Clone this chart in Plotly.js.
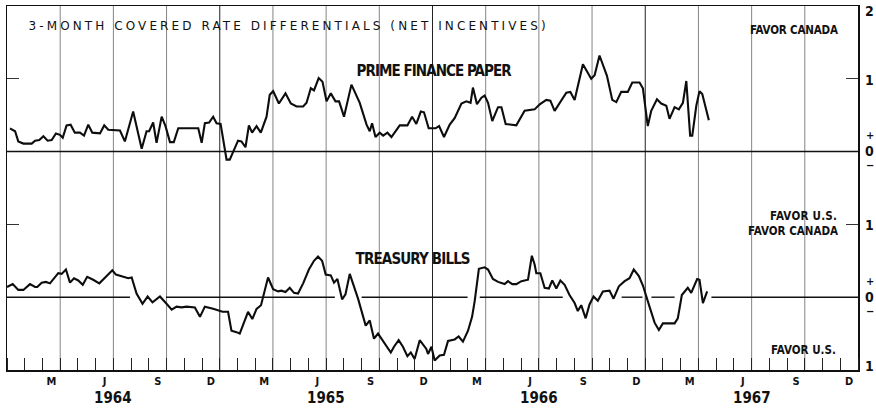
<!DOCTYPE html>
<html>
<head>
<meta charset="utf-8">
<script src="https://cdn.plot.ly/plotly-3.0.1.min.js"></script>
<style>
html,body{margin:0;padding:0;background:#fff;}
#chart{width:876px;height:408px;}
</style>
</head>
<body>
<div id="chart"></div>
<script>
// ---------------- DATA ----------------
// Time in fractional years, values in percentage points.
const primeT = [1964.014,1964.038,1964.053,1964.077,1964.116,1964.132,1964.152,1964.171,1964.191,1964.210,
1964.230,1964.249,1964.262,1964.280,1964.299,1964.319,1964.343,1964.362,1964.382,1964.401,
1964.437,1964.457,1964.476,1964.507,1964.531,1964.554,1964.593,1964.633,1964.656,1964.668,
1964.687,1964.703,1964.727,1964.745,1964.766,1964.784,1964.805,1964.899,1964.915,1964.930,
1964.950,1964.969,1964.985,1965.004,1965.013,1965.032,1965.047,1965.071,1965.086,1965.102,
1965.121,1965.137,1965.152,1965.173,1965.193,1965.220,1965.235,1965.251,1965.262,1965.278,
1965.309,1965.334,1965.361,1965.392,1965.408,1965.428,1965.443,1965.465,1965.483,1965.502,
1965.522,1965.544,1965.561,1965.584,1965.619,1965.658,1965.690,1965.705,1965.716,1965.732,
1965.752,1965.768,1965.788,1965.807,1965.846,1965.882,1965.904,1965.924,1965.945,1965.960,
1965.982,1966.014,1966.031,1966.054,1966.081,1966.104,1966.136,1966.159,1966.179,1966.190,
1966.209,1966.230,1966.245,1966.261,1966.281,1966.308,1966.324,1966.344,1966.394,1966.433,
1966.480,1966.504,1966.535,1966.554,1966.574,1966.605,1966.629,1966.648,1966.668,1966.707,
1966.746,1966.762,1966.785,1966.820,1966.845,1966.864,1966.887,1966.918,1966.939,1966.973,
1966.989,1967.012,1967.028,1967.055,1967.075,1967.099,1967.114,1967.138,1967.158,1967.177,
1967.193,1967.211,1967.221,1967.240,1967.255,1967.268,1967.299];
const primeV = [0.32,0.28,0.14,0.11,0.11,0.15,0.16,0.21,0.15,0.16,
0.25,0.23,0.19,0.36,0.37,0.26,0.26,0.22,0.37,0.26,
0.25,0.36,0.30,0.29,0.29,0.14,0.55,0.04,0.28,0.28,
0.40,0.12,0.48,0.35,0.13,0.13,0.32,0.32,0.12,0.39,
0.40,0.48,0.39,0.38,0.20,-0.11,-0.11,0.05,0.15,0.14,
0.06,0.36,0.26,0.35,0.26,0.48,0.78,0.83,0.76,0.66,
0.80,0.66,0.62,0.62,0.67,0.87,0.84,1.01,0.96,0.69,
0.80,0.69,0.69,0.48,0.92,0.67,0.37,0.28,0.39,0.20,
0.26,0.22,0.26,0.20,0.36,0.36,0.48,0.38,0.55,0.54,
0.32,0.32,0.35,0.20,0.37,0.46,0.66,0.69,0.67,0.88,
0.65,0.74,0.77,0.67,0.42,0.61,0.61,0.38,0.36,0.56,
0.58,0.65,0.71,0.70,0.56,0.70,0.81,0.82,0.71,1.20,
1.00,1.05,1.32,1.04,0.71,0.68,0.82,0.82,0.95,0.95,
0.87,0.35,0.56,0.72,0.66,0.63,0.45,0.61,0.58,0.67,
0.97,0.22,0.22,0.63,0.83,0.79,0.43];

const billsT = [1964.000,1964.027,1964.053,1964.077,1964.108,1964.132,1964.142,1964.163,1964.183,1964.202,
1964.241,1964.257,1964.277,1964.296,1964.315,1964.335,1964.356,1964.377,1964.405,1964.434,
1964.465,1964.495,1964.512,1964.546,1964.570,1964.586,1964.609,1964.637,1964.661,1964.684,
1964.719,1964.750,1964.774,1964.797,1964.821,1964.844,1964.883,1964.907,1964.930,1964.969,
1964.992,1965.013,1965.039,1965.055,1965.079,1965.094,1965.133,1965.153,1965.173,1965.194,
1965.227,1965.251,1965.274,1965.290,1965.309,1965.329,1965.349,1965.368,1965.392,1965.419,
1965.443,1965.462,1965.481,1965.498,1965.522,1965.537,1965.553,1965.575,1965.591,1965.611,
1965.650,1965.686,1965.705,1965.725,1965.744,1965.768,1965.804,1965.819,1965.841,1965.861,
1965.882,1965.898,1965.916,1965.940,1965.971,1965.979,1965.995,1966.010,1966.034,1966.054,
1966.073,1966.104,1966.123,1966.143,1966.167,1966.186,1966.198,1966.218,1966.245,1966.261,
1966.284,1966.308,1966.339,1966.355,1966.375,1966.394,1966.418,1966.449,1966.467,1966.480,
1966.488,1966.507,1966.527,1966.547,1966.563,1966.582,1966.601,1966.621,1966.644,1966.668,
1966.683,1966.699,1966.720,1966.738,1966.757,1966.777,1966.801,1966.832,1966.851,1966.876,
1966.903,1966.926,1966.946,1966.970,1966.989,1967.020,1967.044,1967.064,1967.083,1967.138,
1967.153,1967.172,1967.200,1967.216,1967.244,1967.255,1967.271,1967.291];
const billsV = [0.14,0.18,0.10,0.10,0.18,0.14,0.14,0.20,0.21,0.19,
0.33,0.32,0.38,0.20,0.26,0.23,0.17,0.28,0.24,0.19,
0.28,0.37,0.31,0.28,0.26,0.27,0.05,-0.09,0.01,-0.07,
0.01,-0.09,-0.17,-0.13,-0.14,-0.13,-0.14,-0.27,-0.13,-0.16,
-0.18,-0.20,-0.20,-0.46,-0.48,-0.50,-0.20,-0.30,-0.16,-0.11,
0.27,0.11,0.08,0.09,0.07,0.13,0.06,0.05,0.19,0.38,
0.50,0.56,0.50,0.31,0.30,0.20,0.25,-0.03,0.04,0.32,
-0.02,-0.39,-0.32,-0.57,-0.50,-0.60,-0.76,-0.68,-0.59,-0.68,
-0.81,-0.76,-0.85,-0.59,-0.71,-0.78,-0.68,-0.87,-0.80,-0.79,
-0.60,-0.58,-0.54,-0.61,-0.46,-0.27,-0.06,0.39,0.41,0.38,
0.25,0.21,0.18,0.22,0.18,0.18,0.22,0.24,0.57,0.45,
0.33,0.33,0.13,0.12,0.23,0.12,0.23,0.17,0.03,-0.08,
-0.19,-0.11,-0.29,-0.10,0.01,-0.05,0.08,0.09,-0.02,0.15,
0.22,0.26,0.38,0.29,0.16,-0.13,-0.35,-0.45,-0.36,-0.36,
-0.29,0.03,0.13,0.06,0.25,0.24,-0.08,0.08];

const years = [1964, 1965, 1966, 1967];
const monthLabels = ['M', 'J', 'S', 'D'];
const monthIndex = [2, 5, 8, 11];          // March, June, September, December
const seriesNames = ['PRIME FINANCE PAPER', 'TREASURY BILLS'];

// ---------------- LAYOUT HELPERS ----------------
const W = 876, H = 408;
const M = {l: 7, r: 18, t: 6, b: 38};
const PW = W - M.l - M.r, PH = H - M.t - M.b;
const px2paperX = x => (x - M.l) / PW;
const px2paperY = y => (H - M.b - y) / PH;

const tickvals = [], ticktext = [];
years.forEach(y => monthIndex.forEach((m, k) => { tickvals.push(y + (m + 0.5) / 12); ticktext.push(monthLabels[k]); }));

const shapes = [];
// quarter gridlines
for (let q = 1; q < 16; q++) {
  const xv = 1964 + q * 0.25;
  shapes.push({type: 'line', xref: 'x', yref: 'paper', x0: xv, x1: xv, y0: 0, y1: 1,
    line: {color: q % 4 === 0 ? '#222' : '#666', width: q % 4 === 0 ? 1 : 0.8}, layer: 'below'});
}
// top panel zero line
shapes.push({type: 'line', xref: 'paper', yref: 'y2', x0: 0, x1: 1, y0: 0, y1: 0, line: {color: '#111', width: 1.5}});
// bottom panel zero line (drawn in pieces, as in the original)
const zeroPieces = [[1964.0, 1964.578], [1964.747, 1965.541], [1965.667, 1966.165], [1966.222, 1966.612],
  [1966.889, 1966.987], [1967.029, 1967.138], [1967.311, 1968.0]];
zeroPieces.forEach(p => shapes.push({type: 'line', xref: 'x', yref: 'y', x0: p[0], x1: p[1], y0: 0, y1: 0,
  line: {color: '#111', width: 1.4}}));

const narrow = 'Liberation Sans Narrow, DejaVu Sans Condensed, Arial Narrow, sans-serif';
const boldNarrow = {family: narrow, size: 15, color: '#111', weight: 'bold'};
const anns = [];
const fitW = [];
function addText(text, cx, cy, font, width) {
  anns.push({text: text, xref: 'paper', yref: 'paper', x: px2paperX(cx), y: px2paperY(cy),
    xanchor: 'center', yanchor: 'middle', showarrow: false, font: font});
  fitW.push(width || 0);
}
addText('3-MONTH COVERED RATE DIFFERENTIALS (NET INCENTIVES)', 287, 26,
  {family: 'DejaVu Sans, sans-serif', size: 12, color: '#111'}, 517);
addText(seriesNames[0], 434.5, 70.5, boldNarrow, 155);
addText(seriesNames[1], 412.5, 259, boldNarrow, 115);
const smallBold = {family: narrow, size: 11.5, color: '#111', weight: 'bold'};
addText('FAVOR CANADA', 794, 30.5, smallBold, 88);
addText('FAVOR U.S.', 803.5, 216, smallBold, 67);
addText('FAVOR CANADA', 793, 231, smallBold, 90);
addText('FAVOR U.S.', 803.5, 350, smallBold, 65);
// right-side scale labels
const digitFont = {family: narrow, size: 14, color: '#111', weight: 'bold'};
const signFont = {family: narrow, size: 11, color: '#111', weight: 'bold'};
[['2', 11, digitFont], ['1', 80, digitFont], ['+', 135, signFont], ['0', 151, digitFont], ['\u2212', 165, signFont],
 ['1', 225, digitFont], ['+', 281, signFont], ['0', 297, digitFont], ['\u2212', 311, signFont], ['1', 366, digitFont]]
  .forEach(s => addText(s[0], 870, s[1], s[2]));
// year labels
years.forEach(y => {
  anns.push({text: String(y), xref: 'x', yref: 'paper', x: y + 0.5, y: px2paperY(398),
    xanchor: 'center', yanchor: 'middle', showarrow: false,
    font: {family: narrow, size: 15, color: '#111', weight: 'bold'}});
  fitW.push(0);
});

const lineStyle = {color: '#0d0d0d', width: 2.1};
const data = [
  {x: primeT, y: primeV, type: 'scatter', mode: 'lines', line: lineStyle, yaxis: 'y2', name: seriesNames[0]},
  {x: billsT, y: billsV, type: 'scatter', mode: 'lines', line: lineStyle, yaxis: 'y', name: seriesNames[1]}
];

const layout = {
  width: W, height: H, margin: M,
  paper_bgcolor: '#fff', plot_bgcolor: '#fff',
  showlegend: false, hovermode: false,
  xaxis: {
    type: 'linear', range: [1964, 1968], showgrid: false, zeroline: false,
    showline: true, linecolor: '#111', linewidth: 1.5, mirror: true,
    tickmode: 'array', tickvals: tickvals, ticktext: ticktext, ticks: '',
    tickfont: {family: narrow, size: 11, color: '#111', weight: 'bold'},
    minor: {tickmode: 'linear', tick0: 1964, dtick: 1 / 12, ticks: 'inside', ticklen: 12,
      tickcolor: '#222', tickwidth: 1, showgrid: false}
  },
  yaxis: {
    range: [-1, 4], showgrid: false, zeroline: false, showticklabels: false,
    showline: true, linecolor: '#111', linewidth: 1.5, mirror: 'ticks',
    tickmode: 'array', tickvals: [1, 3], ticks: 'inside', ticklen: 12, tickcolor: '#333', tickwidth: 1
  },
  yaxis2: {
    range: [-3, 2], overlaying: 'y', side: 'right', showgrid: false, zeroline: false,
    showticklabels: false, showline: false, ticks: ''
  },
  shapes: shapes,
  annotations: anns
};

Plotly.newPlot('chart', data, layout, {staticPlot: true, displayModeBar: false}).then(() => {
  document.querySelectorAll('#chart g.annotation').forEach(g => {
    const i = +g.getAttribute('data-index');
    const w = fitW[i];
    if (!w) return;
    const t = g.querySelector('text.annotation-text');
    if (!t) return;
    const len = t.getComputedTextLength();
    const n = t.textContent.length;
    const ls = (w - len) / Math.max(1, n - 1);
    t.style.letterSpacing = ls + 'px';
    t.setAttribute('dx', (ls / 2).toFixed(2));
  });
});
</script>
</body>
</html>
